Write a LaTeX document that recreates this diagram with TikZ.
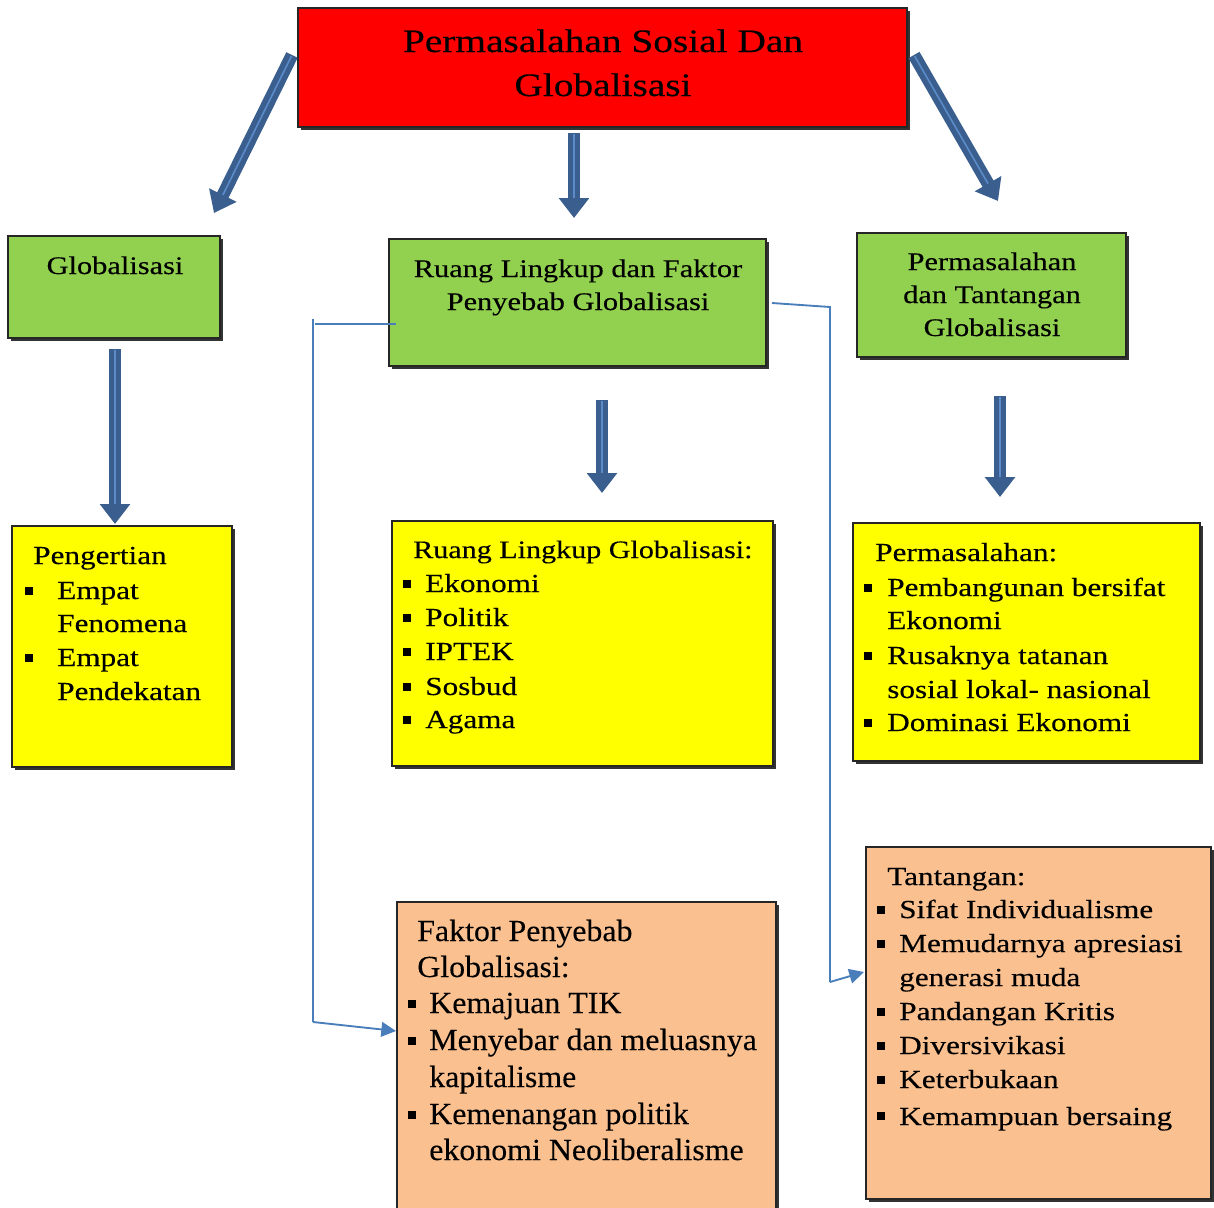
\documentclass[tikz,border=0pt]{standalone}
\usepackage{fontspec}
\setmainfont{Liberation Serif}[FakeStretch=1.2,FakeBold=0.3]
\newfontfamily\timesfont{Liberation Serif}[FakeStretch=1.04,FakeBold=0.15]
\usetikzlibrary{arrows.meta,shadows,fit}
\definecolor{redbox}{HTML}{FF0000}
\definecolor{greenbox}{HTML}{92D050}
\definecolor{yellowbox}{HTML}{FFFF00}
\definecolor{orangebox}{HTML}{FAC090}
\definecolor{arrowdark}{HTML}{3A5F8E}
\definecolor{arrowlight}{HTML}{5B8BC9}
\definecolor{linkblue}{HTML}{4A7EBB}
\begin{document}
\begin{tikzpicture}[x=0.75pt,y=-0.75pt,
  box/.style={draw=black!85, line width=1pt, inner sep=0pt,
    drop shadow={shadow xshift=2.2pt, shadow yshift=-2.2pt, fill=black!80, opacity=1}},
  titletxt/.style={anchor=base, inner sep=0pt, font=\fontsize{24.6}{30}\selectfont},
  boxtxt/.style={anchor=base, inner sep=0pt, font=\fontsize{19}{24}\selectfont},
  tl/.style={anchor=base west, inner sep=0pt, font=\fontsize{19.5}{24}\selectfont},
  tlt/.style={anchor=base west, inner sep=0pt, font=\timesfont\fontsize{23}{27}\selectfont},
  bsq/.style={fill=black, inner sep=0pt, minimum size=5.3pt},
  blockarrow/.style={arrowdark, line width=9.5pt, -{Triangle[width=22pt,length=15pt]}},
  blockcore/.style={arrowlight, line width=1.2pt, shorten >=15pt, shorten <=1pt},
  link/.style={linkblue, line width=1.4pt},
  linkarrow/.style={linkblue, line width=1.4pt, -{Triangle[width=11pt,length=11pt]}}
]
\useasboundingbox (0,0) rectangle (1214,1207);

% ---------- boxes ----------
\node[box, fill=redbox, fit={(298,8)(907,127)}] (title) {};
\node[box, fill=greenbox, fit={(8,236)(220,338)}] (glob) {};
\node[box, fill=greenbox, fit={(389,239)(766,366)}] (ruang) {};
\node[box, fill=greenbox, fit={(857,233)(1126,357)}] (perm) {};
\node[box, fill=yellowbox, fit={(12,526)(232,767)}] (peng) {};
\node[box, fill=yellowbox, fit={(392,521)(773,766)}] (rlg) {};
\node[box, fill=yellowbox, fit={(853,523)(1200,761)}] (pms) {};
\node[box, fill=orangebox, fit={(397,902)(776,1212)}] (fakt) {};
\node[box, fill=orangebox, fit={(866,847)(1211,1199)}] (tant) {};

% ---------- titles ----------
\node[titletxt] (t1) at (603,52) {Permasalahan Sosial Dan};
\node[titletxt] (t2) at (603,96) {Globalisasi};
\node[boxtxt] (g1) at (115,274) {Globalisasi};
\node[boxtxt] (r1) at (578,277) {Ruang Lingkup dan Faktor};
\node[boxtxt] (r2) at (578,310) {Penyebab Globalisasi};
\node[boxtxt] (p1) at (992,270) {Permasalahan};
\node[boxtxt] (p2) at (992,303) {dan Tantangan};
\node[boxtxt] (p3) at (992,336) {Globalisasi};

% ---------- Pengertian ----------
\node[tl] (pe0) at (33,564) {Pengertian};
\node[bsq] (pb1) at (29,591) {};
\node[tl] (pe1) at (57,599) {Empat};
\node[tl] (pe2) at (57,632) {Fenomena};
\node[bsq] (pb2) at (29,658) {};
\node[tl] (pe3) at (57,666) {Empat};
\node[tl] (pe4) at (57,700) {Pendekatan};

% ---------- Ruang Lingkup ----------
\node[tl, font=\fontsize{18.8}{24}\selectfont] (rl0) at (413,558) {Ruang Lingkup Globalisasi:};
\node[bsq] (rb1) at (407,584) {};
\node[tl] (rl1) at (425,592) {Ekonomi};
\node[bsq] (rb2) at (407,618) {};
\node[tl] (rl2) at (425,626) {Politik};
\node[bsq] (rb3) at (407,652) {};
\node[tl] (rl3) at (425,660) {IPTEK};
\node[bsq] (rb4) at (407,687) {};
\node[tl] (rl4) at (425,695) {Sosbud};
\node[bsq] (rb5) at (407,720) {};
\node[tl] (rl5) at (425,728) {Agama};

% ---------- Permasalahan ----------
\node[tl] (pm0) at (875,561) {Permasalahan:};
\node[bsq] (mb1) at (868,588) {};
\node[tl] (pm1) at (887,596) {Pembangunan bersifat};
\node[tl] (pm2) at (887,629) {Ekonomi};
\node[bsq] (mb2) at (868,656) {};
\node[tl] (pm3) at (887,664) {Rusaknya tatanan};
\node[tl] (pm4) at (887,698) {sosial lokal- nasional};
\node[bsq] (mb3) at (868,723) {};
\node[tl] (pm5) at (887,731) {Dominasi Ekonomi};

% ---------- Faktor Penyebab ----------
\node[tlt] (fk0) at (417,941) {Faktor Penyebab};
\node[tlt] (fk1) at (417,977) {Globalisasi:};
\node[bsq] (fb1) at (412,1004) {};
\node[tlt] (fk2) at (429,1013) {Kemajuan TIK};
\node[bsq] (fb2) at (412,1041) {};
\node[tlt] (fk3) at (429,1050) {Menyebar dan meluasnya};
\node[tlt] (fk4) at (429,1087) {kapitalisme};
\node[bsq] (fb3) at (412,1115) {};
\node[tlt] (fk5) at (429,1124) {Kemenangan politik};
\node[tlt] (fk6) at (429,1160) {ekonomi Neoliberalisme};

% ---------- Tantangan ----------
\node[tl] (tn0) at (887,885) {Tantangan:};
\node[bsq] (tb1) at (881,910) {};
\node[tl] (tn1) at (899,918) {Sifat Individualisme};
\node[bsq] (tb2) at (881,944) {};
\node[tl] (tn2) at (899,952) {Memudarnya apresiasi};
\node[tl] (tn3) at (899,986) {generasi muda};
\node[bsq] (tb3) at (881,1012) {};
\node[tl] (tn4) at (899,1020) {Pandangan Kritis};
\node[bsq] (tb4) at (881,1046) {};
\node[tl] (tn5) at (899,1054) {Diversivikasi};
\node[bsq] (tb5) at (881,1080) {};
\node[tl] (tn6) at (899,1088) {Keterbukaan};
\node[bsq] (tb6) at (881,1116) {};
\node[tl] (tn7) at (899,1125) {Kemampuan bersaing};

% ---------- block arrows ----------
\coordinate (a1s) at (292,55);   \coordinate (a1e) at (214,213);
\coordinate (a2s) at (574,133);  \coordinate (a2e) at (574,218);
\coordinate (a3s) at (914,55);   \coordinate (a3e) at (998,201);
\coordinate (a4s) at (115,349);  \coordinate (a4e) at (115,524);
\coordinate (a5s) at (602,400);  \coordinate (a5e) at (602,493);
\coordinate (a6s) at (1000,396); \coordinate (a6e) at (1000,497);
\foreach \s/\e in {a1s/a1e,a2s/a2e,a3s/a3e,a4s/a4e,a5s/a5e,a6s/a6e}{
  \draw[blockarrow] (\s) -- (\e);
  \draw[blockcore] (\s) -- (\e);
}

% ---------- thin links ----------
\coordinate (l1a) at (396,324);
\coordinate (l1b) at (315,324);
\coordinate (l1c) at (313,319);
\coordinate (l1d) at (313,1022);
\coordinate (l1e) at (396,1031);
\draw[link] (l1a) -- (l1b);
\draw[link] (l1c) -- (l1d);
\draw[linkarrow] (l1d) -- (l1e);

\coordinate (l2a) at (772,303);
\coordinate (l2b) at (830,307);
\coordinate (l2c) at (830,982);
\coordinate (l2d) at (864,972);
\draw[link] (l2a) -- (l2b) -- (l2c);
\draw[linkarrow] (l2c) -- (l2d);
\end{tikzpicture}
\end{document}
